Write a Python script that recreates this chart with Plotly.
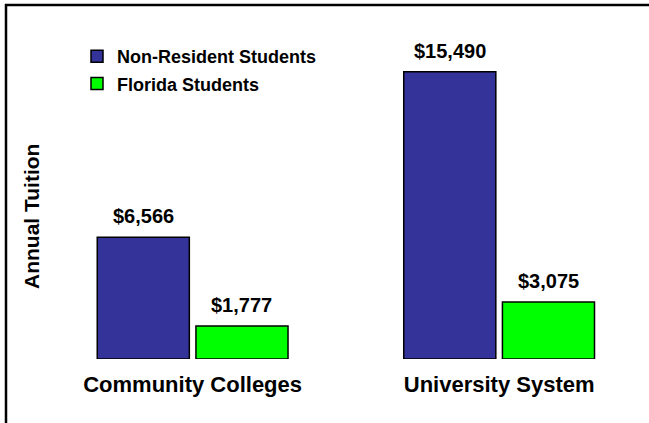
import plotly.graph_objects as go

categories = ["Community Colleges", "University System"]
series_names = ["Non-Resident Students", "Florida Students"]
non_resident = [6566, 15490]
florida = [1777, 3075]
colors = ["#333399", "#00FF00"]

W, H = 649, 423
# plot area in pixels (left, right, top, bottom)
PL, PR, PT, PB = 40, 649, 20, 359
FONT = "Liberation Sans, Arial, sans-serif"
bargap = 0.356
bargroupgap = 0.067

fig = go.Figure()
for name, vals, col in zip(series_names, [non_resident, florida], colors):
    fig.add_trace(go.Bar(
        name=name, x=categories, y=vals,
        marker=dict(color=col, line=dict(color="#000000", width=1.5)),
        legendgroup=name,
    ))

slot = (1 - bargap) / 2
for si, vals in enumerate([non_resident, florida]):
    off = (si - 0.5) * slot
    for ci, v in enumerate(vals):
        fig.add_annotation(
            x=ci + off, y=v, xref="x", yref="y",
            text=f"${v:,}", showarrow=False,
            yanchor="bottom", yshift=8,
            font=dict(family=FONT, size=20, color="black", weight="bold"),
        )

fig.add_annotation(
    text="Annual Tuition", xref="paper", yref="paper",
    x=32 / W, y=1 - 217 / H, xanchor="center", yanchor="middle",
    textangle=-90, showarrow=False,
    font=dict(family=FONT, size=21, color="black", weight="bold"),
)

# outer frame: left and top edges
fx, fy = 6 / W, 1 - 5 / H
fig.add_shape(type="path", xref="paper", yref="paper",
              path=f"M {fx},0 L {fx},{fy} L 1,{fy}",
              line=dict(color="black", width=2.5), layer="above")

fig.update_layout(
    width=W, height=H,
    margin=dict(l=0, r=0, t=0, b=0, pad=0),
    paper_bgcolor="white", plot_bgcolor="white",
    barmode="group", bargap=bargap, bargroupgap=bargroupgap,
    showlegend=True,
    legend=dict(
        x=77 / W, y=1 - 38 / H, xanchor="left", yanchor="top",
        bgcolor="rgba(0,0,0,0)", traceorder="grouped", tracegroupgap=1,
        font=dict(family=FONT, size=18, color="black", weight="bold"),
        itemwidth=30,
    ),
    xaxis=dict(
        domain=[PL / W, PR / W],
        range=[-0.498, 1.489], showgrid=False, zeroline=False, showline=False,
        ticks="", ticklabelstandoff=10,
        tickfont=dict(family=FONT, size=22, color="black", weight="bold"),
    ),
    yaxis=dict(
        domain=[1 - PB / H, 1 - PT / H],
        range=[0, (PB - PT) / 0.01855], showgrid=False, zeroline=False, showline=False,
        showticklabels=False, ticks="",
    ),
    font=dict(family=FONT),
)

fig.write_html("out.html")
